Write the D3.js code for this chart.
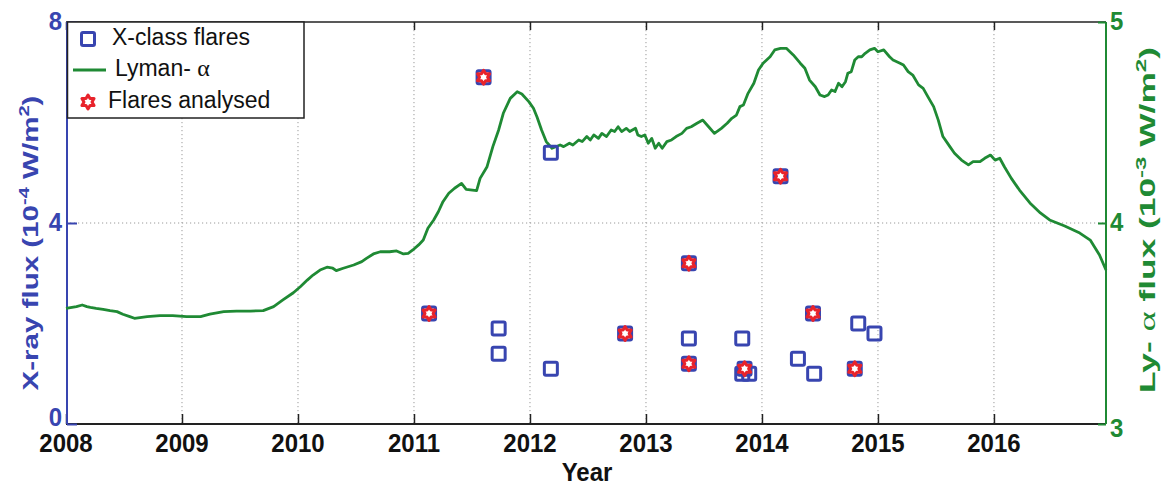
<!DOCTYPE html>
<html><head><meta charset="utf-8">
<script src="https://cdn.jsdelivr.net/npm/d3@7"></script>
<style>body{margin:0;background:#fff}svg{display:block}</style>
</head><body><svg id="c" width="1163" height="486"></svg>
<script>
const yearTicks = [2008, 2009, 2010, 2011, 2012, 2013, 2014, 2015, 2016];
const leftTicks = [0, 4, 8];
const rightTicks = [3, 4, 5];

const lymanYears = [
  2008.00, 2008.09, 2008.14, 2008.18, 2008.21, 2008.26, 2008.32, 2008.38, 2008.44, 2008.49,
  2008.55, 2008.59, 2008.70, 2008.81, 2008.92, 2009.04, 2009.16, 2009.24, 2009.36, 2009.47,
  2009.59, 2009.70, 2009.79, 2009.87, 2009.96, 2010.02, 2010.08, 2010.13, 2010.19, 2010.25,
  2010.30, 2010.33, 2010.39, 2010.48, 2010.55, 2010.59, 2010.65, 2010.71, 2010.79, 2010.85,
  2010.91, 2010.95, 2010.99, 2011.04, 2011.08, 2011.12, 2011.17, 2011.21, 2011.25, 2011.30,
  2011.35, 2011.41, 2011.45, 2011.54, 2011.57, 2011.63, 2011.68, 2011.73, 2011.77, 2011.83,
  2011.89, 2011.93, 2011.99, 2012.03, 2012.06, 2012.10, 2012.14, 2012.19, 2012.26, 2012.29,
  2012.34, 2012.37, 2012.42, 2012.45, 2012.49, 2012.52, 2012.55, 2012.59, 2012.62, 2012.66,
  2012.70, 2012.73, 2012.76, 2012.79, 2012.83, 2012.86, 2012.91, 2012.93, 2012.96, 2012.99,
  2013.02, 2013.05, 2013.08, 2013.11, 2013.14, 2013.18, 2013.22, 2013.26, 2013.31, 2013.35,
  2013.39, 2013.44, 2013.49, 2013.54, 2013.59, 2013.65, 2013.70, 2013.74, 2013.78, 2013.81,
  2013.84, 2013.88, 2013.93, 2013.97, 2014.01, 2014.07, 2014.11, 2014.16, 2014.21, 2014.27,
  2014.33, 2014.37, 2014.41, 2014.46, 2014.50, 2014.54, 2014.57, 2014.60, 2014.63, 2014.66,
  2014.69, 2014.72, 2014.74, 2014.77, 2014.80, 2014.83, 2014.86, 2014.89, 2014.93, 2014.97,
  2015.00, 2015.05, 2015.10, 2015.13, 2015.19, 2015.22, 2015.26, 2015.30, 2015.35, 2015.39,
  2015.43, 2015.48, 2015.52, 2015.56, 2015.62, 2015.66, 2015.72, 2015.78, 2015.82, 2015.88,
  2015.92, 2015.97, 2016.01, 2016.05, 2016.09, 2016.15, 2016.22, 2016.31, 2016.40, 2016.48,
  2016.61, 2016.74, 2016.83, 2016.91, 2016.966];
const lymanValues = [
  3.575, 3.584, 3.592, 3.584, 3.580, 3.575, 3.570, 3.564, 3.559, 3.546,
  3.534, 3.526, 3.534, 3.539, 3.539, 3.534, 3.534, 3.547, 3.559, 3.562,
  3.562, 3.564, 3.584, 3.617, 3.653, 3.683, 3.716, 3.741, 3.766, 3.780,
  3.775, 3.763, 3.775, 3.791, 3.808, 3.824, 3.846, 3.857, 3.857, 3.861,
  3.846, 3.849, 3.866, 3.891, 3.915, 3.974, 4.015, 4.056, 4.106, 4.148,
  4.173, 4.197, 4.167, 4.161, 4.222, 4.280, 4.380, 4.463, 4.546, 4.620,
  4.653, 4.642, 4.604, 4.571, 4.529, 4.463, 4.405, 4.372, 4.388, 4.380,
  4.397, 4.388, 4.413, 4.405, 4.430, 4.413, 4.438, 4.421, 4.446, 4.430,
  4.463, 4.455, 4.479, 4.455, 4.471, 4.455, 4.471, 4.438, 4.430, 4.438,
  4.397, 4.421, 4.372, 4.397, 4.372, 4.405, 4.413, 4.430, 4.446, 4.471,
  4.479, 4.496, 4.512, 4.479, 4.446, 4.471, 4.496, 4.521, 4.537, 4.579,
  4.587, 4.645, 4.695, 4.761, 4.795, 4.827, 4.861, 4.869, 4.869, 4.836,
  4.795, 4.770, 4.711, 4.678, 4.637, 4.629, 4.637, 4.662, 4.654, 4.695,
  4.678, 4.703, 4.745, 4.753, 4.811, 4.827, 4.827, 4.844, 4.861, 4.869,
  4.852, 4.861, 4.827, 4.811, 4.795, 4.786, 4.753, 4.736, 4.687, 4.670,
  4.629, 4.579, 4.512, 4.430, 4.380, 4.347, 4.313, 4.289, 4.305, 4.305,
  4.322, 4.338, 4.313, 4.322, 4.280, 4.222, 4.164, 4.100, 4.050, 4.015,
  3.985, 3.950, 3.915, 3.841, 3.766];

const xflareYears = [2011.13, 2011.60, 2011.73, 2011.73, 2012.18, 2012.18, 2012.82, 2013.37, 2013.37, 2013.37,
  2013.83, 2013.85, 2013.83, 2013.89, 2014.16, 2014.31, 2014.44, 2014.45, 2014.83, 2014.97, 2014.80];
const xflareValues = [2.2, 6.9, 1.9, 1.4, 5.4, 1.1, 1.8, 3.2, 1.7, 1.2,
  1.7, 1.1, 1.0, 1.0, 4.93, 1.3, 2.2, 1.0, 2.0, 1.8, 1.1];

const analysedYears = [2011.13, 2011.60, 2012.82, 2013.37, 2013.37, 2013.85, 2014.16, 2014.44, 2014.80];
const analysedValues = [2.2, 6.9, 1.8, 3.2, 1.2, 1.1, 4.93, 2.2, 1.1];

const BLUE = "#3845b0", GREEN = "#1f8a34", RED = "#e8232b";
const FONT = "'Liberation Sans', Arial, Helvetica, sans-serif";

const svg = d3.select("#c");
const L = 66, R = 1106, T = 22, B = 424;
const x = d3.scaleLinear().domain([2008, 2016.966]).range([L, R]);
const yL = d3.scaleLinear().domain([0, 8]).range([B, T]);
const yR = d3.scaleLinear().domain([3, 5]).range([B, T]);

// grid
const grid = svg.append("g");
grid.selectAll("line.v").data(yearTicks.slice(1)).join("line")
  .attr("x1", d => x(d)).attr("x2", d => x(d)).attr("y1", T).attr("y2", B)
  .attr("stroke", "#9a9a9a").attr("stroke-width", 1).attr("stroke-dasharray", "1.2,2.8");
grid.selectAll("line.h").data([4]).join("line")
  .attr("x1", L).attr("x2", R).attr("y1", d => yL(d)).attr("y2", d => yL(d))
  .attr("stroke", "#9a9a9a").attr("stroke-width", 1).attr("stroke-dasharray", "1.2,2.8");

// x axes (bottom ticks point up, mirrored top ticks)
const xAxis = svg.append("g").attr("transform", `translate(0,${B})`)
  .call(d3.axisTop(x).tickValues(yearTicks).tickSize(10).tickFormat(""));
xAxis.select(".domain").remove();
xAxis.selectAll("line").attr("stroke", "#222").attr("stroke-width", 1.5);
const xTop = svg.append("g").attr("transform", `translate(0,${T})`)
  .call(d3.axisBottom(x).tickValues(yearTicks).tickSize(8).tickFormat(""));
xTop.select(".domain").remove();
xTop.selectAll("line").attr("stroke", "#222").attr("stroke-width", 1.5);

const xLab = svg.append("g").attr("font-family", FONT).attr("font-weight", "bold").attr("font-size", 24).attr("fill", "#111");
xLab.selectAll("text").data(yearTicks).join("text")
  .attr("transform", d => `translate(${x(d)},452) scale(1,1.08)`)
  .attr("text-anchor", "middle").text(d => d);

// frame lines
svg.append("line").attr("x1", L).attr("x2", R).attr("y1", B).attr("y2", B).attr("stroke", "#222").attr("stroke-width", 2);
svg.append("line").attr("x1", L).attr("x2", R).attr("y1", T).attr("y2", T).attr("stroke", "#222").attr("stroke-width", 1.5);

// left axis
const lAx = svg.append("g").attr("transform", `translate(${L + 1},0)`)
  .call(d3.axisRight(yL).tickValues(leftTicks).tickSize(10).tickFormat(""));
lAx.select(".domain").remove();
lAx.selectAll("line").attr("stroke", BLUE).attr("stroke-width", 2);
svg.append("line").attr("x1", L + 1).attr("x2", L + 1).attr("y1", T).attr("y2", B).attr("stroke", BLUE).attr("stroke-width", 2);
svg.append("g").attr("font-family", FONT).attr("font-weight", "bold").attr("font-size", 24).attr("fill", BLUE)
  .selectAll("text").data(leftTicks).join("text")
  .attr("transform", d => `translate(62,${yL(d) + 8 - (d === 0 ? 6 : 0)}) scale(1,1.1)`)
  .attr("text-anchor", "end").text(d => d);

// right axis
const rAx = svg.append("g").attr("transform", `translate(${R},0)`)
  .call(d3.axisLeft(yR).tickValues(rightTicks).tickSize(8).tickFormat(""));
rAx.select(".domain").remove();
rAx.selectAll("line").attr("stroke", GREEN).attr("stroke-width", 2);
svg.append("line").attr("x1", R).attr("x2", R).attr("y1", T).attr("y2", B).attr("stroke", GREEN).attr("stroke-width", 2);
svg.append("g").attr("font-family", FONT).attr("font-weight", "bold").attr("font-size", 24).attr("fill", GREEN)
  .selectAll("text").data(rightTicks).join("text")
  .attr("transform", d => `translate(1110,${yR(d) + 8 + (d === 3 ? 5 : 0)}) scale(1,1.1)`)
  .attr("text-anchor", "start").text(d => d);

// Lyman-alpha line
const lyData = lymanYears.map((t, i) => [t, lymanValues[i]]);
svg.append("path").datum(lyData)
  .attr("d", d3.line().x(d => x(d[0])).y(d => yR(d[1])).curve(d3.curveLinear))
  .attr("fill", "none").attr("stroke", GREEN).attr("stroke-width", 2.8).attr("stroke-linejoin", "round");

// squares
const sq = 13;
const xfData = xflareYears.map((t, i) => [t, xflareValues[i]]);
svg.append("g").selectAll("rect").data(xfData).join("rect")
  .attr("x", d => x(d[0]) - sq / 2).attr("y", d => yL(d[1]) - sq / 2)
  .attr("width", sq).attr("height", sq).attr("rx", 1.5)
  .attr("fill", "none").attr("stroke", BLUE).attr("stroke-width", 3);

// hexagram
function hexagram(Ro) {
  const ri = Ro / Math.sqrt(3);
  const pts = [];
  for (let k = 0; k < 12; k++) {
    const a = -Math.PI / 2 + k * Math.PI / 6;
    const r = k % 2 === 0 ? Ro : ri;
    pts.push([r * Math.cos(a), r * Math.sin(a)]);
  }
  return "M" + pts.map(p => p[0].toFixed(2) + "," + p[1].toFixed(2)).join("L") + "Z";
}
const anData = analysedYears.map((t, i) => [t, analysedValues[i]]);
svg.append("g").selectAll("path").data(anData).join("path")
  .attr("transform", d => `translate(${x(d[0])},${yL(d[1])})`)
  .attr("d", hexagram(7))
  .attr("fill", "#fff").attr("stroke", RED).attr("stroke-width", 3).attr("stroke-linejoin", "round");

// legend
const lg = svg.append("g");
lg.append("rect").attr("x", 67.5).attr("y", 22).attr("width", 236.5).attr("height", 96)
  .attr("fill", "#fff").attr("stroke", "#222").attr("stroke-width", 1.5);
lg.append("rect").attr("x", 88 - sq / 2).attr("y", 39 - sq / 2).attr("width", sq).attr("height", sq).attr("rx", 1.5)
  .attr("fill", "none").attr("stroke", BLUE).attr("stroke-width", 3);
lg.append("line").attr("x1", 73).attr("x2", 106).attr("y1", 70).attr("y2", 70).attr("stroke", GREEN).attr("stroke-width", 2.8);
lg.append("path").attr("transform", "translate(88,102)").attr("d", hexagram(7))
  .attr("fill", "#fff").attr("stroke", RED).attr("stroke-width", 3).attr("stroke-linejoin", "round");
const lt = lg.append("g").attr("font-family", FONT).attr("font-size", 23).attr("fill", "#111");
lt.append("text").attr("x", 112).attr("y", 45).text("X-class flares");
const l2 = lt.append("text").attr("x", 115).attr("y", 76);
l2.append("tspan").text("Lyman- ");
l2.append("tspan").attr("font-family", "'Liberation Serif', 'Times New Roman', serif").attr("font-size", 24).text("α");
lt.append("text").attr("x", 108).attr("y", 108).text("Flares analysed");

// axis titles
function axisTitle(parts, color, cx, cy, len) {
  const g = svg.append("g").attr("transform", `translate(${cx},${cy}) rotate(-90)`);
  const t = g.append("text").attr("font-family", FONT).attr("font-weight", "bold").attr("font-size", 22)
    .attr("fill", color).attr("text-anchor", "middle");
  parts.forEach(p => {
    const ts = t.append("tspan").text(p.t);
    if (p.sup) ts.attr("font-size", 15).attr("dy", -9);
    if (p.down) ts.attr("dy", 9);
    if (p.serif) ts.attr("font-family", "'Liberation Serif', serif").attr("font-weight", "normal").attr("font-size", 24);
  });
  const w = t.node().getComputedTextLength();
  t.attr("transform", `scale(${len / w},1)`);
}
axisTitle([{t: "X-ray flux (10"}, {t: "-4", sup: true}, {t: " W/m", down: true}, {t: "2", sup: true}, {t: ")", down: true}],
  BLUE, 38, 243, 295);
axisTitle([{t: "Ly- "}, {t: "α", serif: true}, {t: " flux (10"}, {t: "-3", sup: true}, {t: " W/m", down: true}, {t: "2", sup: true}, {t: ")", down: true}],
  GREEN, 1155, 220, 346);

// x title
svg.append("text").attr("transform", "translate(587,481) scale(1,1.08)")
  .attr("font-family", FONT).attr("font-weight", "bold").attr("font-size", 24).attr("fill", "#111")
  .attr("text-anchor", "middle").text("Year");
</script></body></html>
